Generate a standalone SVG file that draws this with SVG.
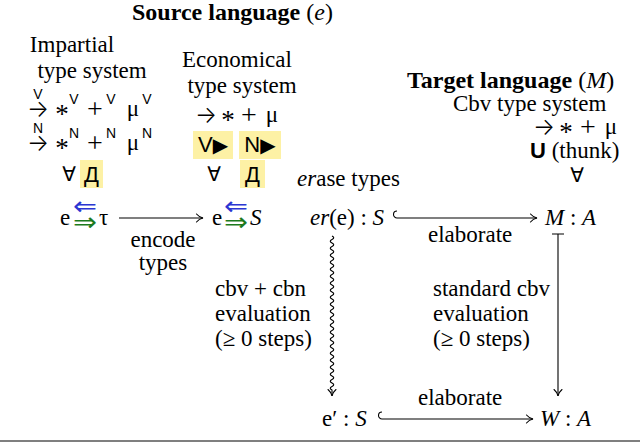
<svg xmlns="http://www.w3.org/2000/svg" width="640" height="444" viewBox="0 0 640 444">
  <style>
    text { font-family: "Liberation Serif", "Times New Roman", serif; font-size: 23px; fill: #000; }
    .b { font-weight: bold; font-size: 24px; }
    .n { font-weight: normal; }
    .i { font-style: italic; }
    .m { text-anchor: middle; }
    .sf { font-family: "Liberation Sans", Arial, sans-serif; font-size: 22px; }
    .sup { font-family: "Liberation Sans", Arial, sans-serif; font-size: 14px; }
    .sym { font-family: "DejaVu Sans", sans-serif; font-size: 20px; }
    .arr { font-family: Inter, "DejaVu Sans", sans-serif; font-size: 24px; font-weight: 300; }
    .ast { font-size: 27px; font-weight: normal; }
    .plus { font-size: 28px; }
    .hl { fill: #fdf1a5; }
    .edge { fill: none; stroke: #000; stroke-width: 1.1; }
    .chk { fill: #2b36d2; font-family: "DejaVu Sans", sans-serif; font-size: 26px; }
    .syn { fill: #1d7a1d; font-family: "DejaVu Sans", sans-serif; font-size: 26px; }
  </style>
  <defs>
    <marker id="tip" viewBox="-8 -5 10 10" refX="0" refY="0" markerWidth="10" markerHeight="10" markerUnits="userSpaceOnUse" orient="auto">
      <path d="M-6.5,-4 C-4.5,-1.6 -1.8,-0.4 0,0 C-1.8,0.4 -4.5,1.6 -6.5,4" fill="none" stroke="#000" stroke-width="1.1" stroke-linecap="round"/>
    </marker>
  </defs>

  <!-- heading over the two source type systems -->
  <g id="source-heading">
    <text x="132" y="20" class="b">Source language <tspan class="n">(<tspan class="i">e</tspan>)</tspan></text>
  </g>

  <!-- impartial type system: annotated connectives -->
  <g id="impartial">
    <text x="72" y="52" class="m">Impartial</text>
    <text x="92" y="78" class="m">type system</text>
    <text x="27" y="117" class="arr" textLength="22" lengthAdjust="spacingAndGlyphs">→</text>
    <text x="38" y="99" class="sup m">V</text>
    <text x="62" y="123" class="ast m">*</text>
    <text x="74" y="104" class="sup m">V</text>
    <text x="95" y="118" class="plus m">+</text>
    <text x="111" y="104" class="sup m">V</text>
    <text x="133" y="116" class="m">μ</text>
    <text x="147" y="104" class="sup m">V</text>
    <text x="27" y="151" class="arr" textLength="22" lengthAdjust="spacingAndGlyphs">→</text>
    <text x="38" y="133" class="sup m">N</text>
    <text x="62" y="157" class="ast m">*</text>
    <text x="74" y="138" class="sup m">N</text>
    <text x="95" y="152" class="plus m">+</text>
    <text x="111" y="138" class="sup m">N</text>
    <text x="133" y="150" class="m">μ</text>
    <text x="147" y="138" class="sup m">N</text>
    <text x="69" y="181" class="sym m">∀</text>
    <rect x="80" y="160" width="23" height="28" class="hl"/>
    <text x="91.5" y="182" class="sf m">Д</text>
  </g>

  <!-- economical type system: plain connectives plus shifts -->
  <g id="economical">
    <text x="237" y="67" class="m">Economical</text>
    <text x="242" y="93" class="m">type system</text>
    <text x="195" y="123" class="arr" textLength="22" lengthAdjust="spacingAndGlyphs">→</text>
    <text x="228" y="129" class="ast m">*</text>
    <text x="249" y="124" class="plus m">+</text>
    <text x="272" y="122" class="m">μ</text>
    <rect x="193" y="131" width="40" height="28" class="hl"/>
    <rect x="239" y="131" width="42" height="28" class="hl"/>
    <text x="213" y="152" class="sf m">V<tspan class="sym">▶</tspan></text>
    <text x="260" y="152" class="sf m">N<tspan class="sym">▶</tspan></text>
    <text x="214" y="181" class="sym m">∀</text>
    <rect x="240" y="160" width="25" height="28" class="hl"/>
    <text x="252.5" y="182" class="sf m">Д</text>
  </g>

  <!-- target language: call-by-value type system -->
  <g id="target">
    <text x="407" y="88" class="b">Target language <tspan class="n">(<tspan class="i">M</tspan>)</tspan></text>
    <text x="453" y="111">Cbv type system</text>
    <text x="533" y="135" class="arr" textLength="22" lengthAdjust="spacingAndGlyphs">→</text>
    <text x="566" y="141" class="ast m">*</text>
    <text x="588" y="136" class="plus m">+</text>
    <text x="611" y="134" class="m">μ</text>
    <text x="530" y="158"><tspan class="sf b">U</tspan> (thunk)</text>
    <text x="577" y="182" class="sym m">∀</text>
  </g>

  <!-- typing judgements and terms -->
  <g id="impartial-typing">
    <text x="60" y="225">e</text>
    <text x="73" y="215" class="chk" textLength="24" lengthAdjust="spacingAndGlyphs">⇐</text>
    <text x="73" y="231" class="syn" textLength="24" lengthAdjust="spacingAndGlyphs">⇒</text>
    <text x="99" y="225">τ</text>
  </g>
  <g id="economical-typing">
    <text x="212" y="225">e</text>
    <text x="224" y="215" class="chk" textLength="24" lengthAdjust="spacingAndGlyphs">⇐</text>
    <text x="224" y="231" class="syn" textLength="24" lengthAdjust="spacingAndGlyphs">⇒</text>
    <text x="250" y="225" class="i">S</text>
  </g>
  <g id="erased-term">
    <text x="297" y="186"><tspan class="i">er</tspan>ase types</text>
    <text x="310" y="225"><tspan class="i">er</tspan>(e) : <tspan class="i">S</tspan></text>
  </g>
  <g id="elaborated-term">
    <text x="545" y="225"><tspan class="i">M</tspan> : <tspan class="i">A</tspan></text>
  </g>
  <g id="result-term">
    <text x="322" y="426">e′ : <tspan class="i">S</tspan></text>
  </g>
  <g id="result-value">
    <text x="540" y="426"><tspan class="i">W</tspan> : <tspan class="i">A</tspan></text>
  </g>

  <!-- connectors and their labels -->
  <g id="edges">
    <path class="edge" d="M119,218 H203" marker-end="url(#tip)"/>
    <text x="163" y="247" class="m">encode</text>
    <text x="163" y="270" class="m">types</text>

    <path class="edge" d="M397,211 A3.5,3.5 0 0 0 397,218 H537" marker-end="url(#tip)"/>
    <text x="428" y="242">elaborate</text>

    <path class="edge" d="M332,236 q3.5,1.75 0,3.5 t0,3.5 t0,3.5 t0,3.5 t0,3.5 t0,3.5 t0,3.5 t0,3.5 t0,3.5 t0,3.5 t0,3.5 t0,3.5 t0,3.5 t0,3.5 t0,3.5 t0,3.5 t0,3.5 t0,3.5 t0,3.5 t0,3.5 t0,3.5 t0,3.5 t0,3.5 t0,3.5 t0,3.5 t0,3.5 t0,3.5 t0,3.5 t0,3.5 t0,3.5 t0,3.5 t0,3.5 t0,3.5 t0,3.5 t0,3.5 t0,3.5 t0,3.5 t0,3.5 t0,3.5 t0,3.5 t0,3.5 t0,3.5 t0,3.5 t0,3.5 l0,6" marker-end="url(#tip)"/>
    <text x="215" y="296">cbv + cbn</text>
    <text x="215" y="321">evaluation</text>
    <text x="215" y="346">(≥ 0 steps)</text>

    <path class="edge" d="M552,234 H564 M558,234 V396" marker-end="url(#tip)"/>
    <text x="433" y="296">standard cbv</text>
    <text x="433" y="321">evaluation</text>
    <text x="433" y="346">(≥ 0 steps)</text>

    <path class="edge" d="M382,412 A3.5,3.5 0 0 0 382,419 H533" marker-end="url(#tip)"/>
    <text x="418" y="405">elaborate</text>
  </g>

  <!-- rule under the figure -->
  <line x1="0" y1="441" x2="640" y2="441" stroke="#555" stroke-width="1.5"/>
</svg>
